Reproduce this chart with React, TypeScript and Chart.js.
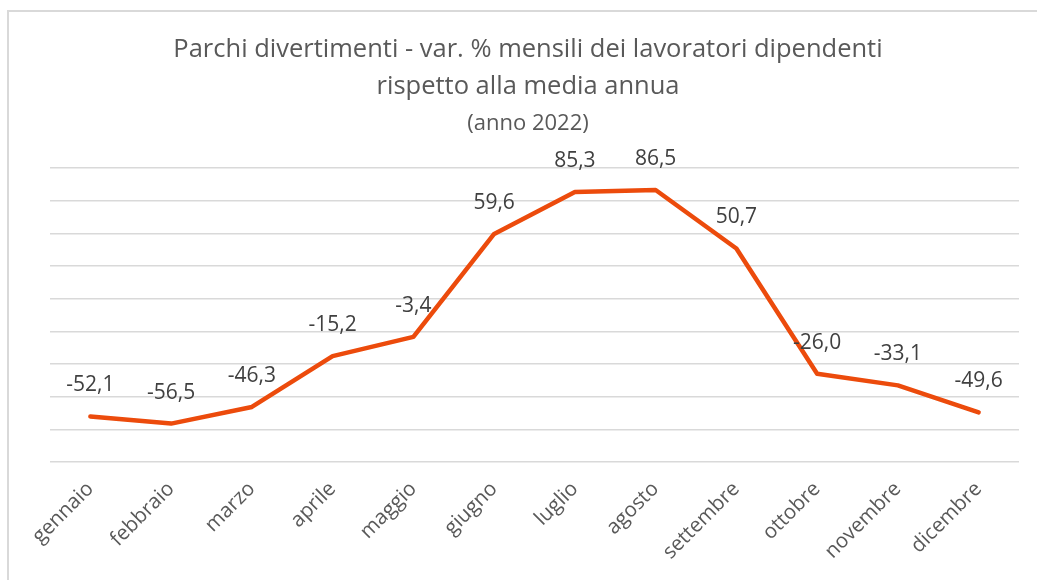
import React, { useEffect, useRef } from "react";
import { Chart, registerables } from "chart.js";

Chart.register(...registerables);

const months = [
  "gennaio", "febbraio", "marzo", "aprile", "maggio", "giugno",
  "luglio", "agosto", "settembre", "ottobre", "novembre", "dicembre",
];
const values = [-52.1, -56.5, -46.3, -15.2, -3.4, 59.6, 85.3, 86.5, 50.7, -26.0, -33.1, -49.6];
const titleLines = [
  "Parchi divertimenti - var. % mensili dei lavoratori dipendenti",
  "rispetto alla media annua",
];
const subtitleText = "(anno 2022)";
const yMin = -80;
const yMax = 100;
const yStep = 20;

const FONT = "'Open Sans', 'Noto Sans', sans-serif";

const dataLabelPlugin = {
  id: "dataLabels",
  afterDatasetsDraw(chart: any) {
    const ctx = chart.ctx;
    const meta = chart.getDatasetMeta(0);
    ctx.save();
    ctx.font = `21px ${FONT}`;
    ctx.fillStyle = "#404040";
    ctx.textAlign = "center";
    ctx.textBaseline = "middle";
    meta.data.forEach((pt: any, i: number) => {
      const v = values[i];
      const txt = v.toFixed(1).replace(".", ",");
      ctx.fillText(txt, pt.x, pt.y - 31);
    });
    ctx.restore();
  },
};

export default function App() {
  const ref = useRef<HTMLCanvasElement | null>(null);

  useEffect(() => {
    if (!ref.current) return;
    const chart = new Chart(ref.current, {
      type: "line",
      data: {
        labels: months,
        datasets: [
          {
            data: values,
            borderColor: "#EC4B0C",
            borderWidth: 4.5,
            pointRadius: 0,
            pointHoverRadius: 0,
            tension: 0,
            borderCapStyle: "round",
            borderJoinStyle: "round",
            fill: false,
          },
        ],
      },
      options: {
        animation: false,
        responsive: false,
        events: [],
        layout: { padding: { left: 37, right: 18, top: 0, bottom: 0 } },
        plugins: {
          legend: { display: false },
          tooltip: { enabled: false },
          title: {
            display: true,
            text: titleLines,
            color: "#595959",
            font: { family: FONT, size: 25.5, weight: "normal", lineHeight: 1.45 },
            padding: { top: 31.5, bottom: 0 },
          },
          subtitle: {
            display: true,
            text: subtitleText,
            color: "#595959",
            font: { family: FONT, size: 22, weight: "normal", lineHeight: 1.2 },
            padding: { top: 4.8, bottom: 31.3 },
          },
        },
        scales: {
          x: {
            offset: true,
            grid: { display: false },
            border: { display: false },
            ticks: {
              minRotation: 45,
              maxRotation: 45,
              color: "#595959",
              font: { family: FONT, size: 20.5 },
              padding: 7,
              autoSkip: false,
            },
            afterFit: (scale: any) => {
              scale.height = 118;
            },
          },
          y: {
            min: yMin,
            max: yMax,
            ticks: { display: false, stepSize: yStep },
            border: { display: false },
            grid: { color: "#D9D9D9", lineWidth: 1.5, drawTicks: false },
            afterFit: (scale: any) => {
              scale.width = 13;
            },
          },
        },
      },
      plugins: [dataLabelPlugin],
    });
    return () => chart.destroy();
  }, []);

  return (
    <div
      style={{
        position: "fixed",
        left: 0,
        top: 0,
        width: 1037,
        height: 580,
        background: "#ffffff",
        overflow: "hidden",
      }}
    >
      <div
        style={{
          position: "absolute",
          left: 7,
          top: 10,
          width: 1040,
          height: 580,
          borderLeft: "2px solid #D9D9D9",
          borderTop: "2px solid #D9D9D9",
        }}
      />
      <canvas
        ref={ref}
        width={1037}
        height={580}
        style={{ position: "absolute", left: 0, top: 0, width: 1037, height: 580 }}
      />
    </div>
  );
}
